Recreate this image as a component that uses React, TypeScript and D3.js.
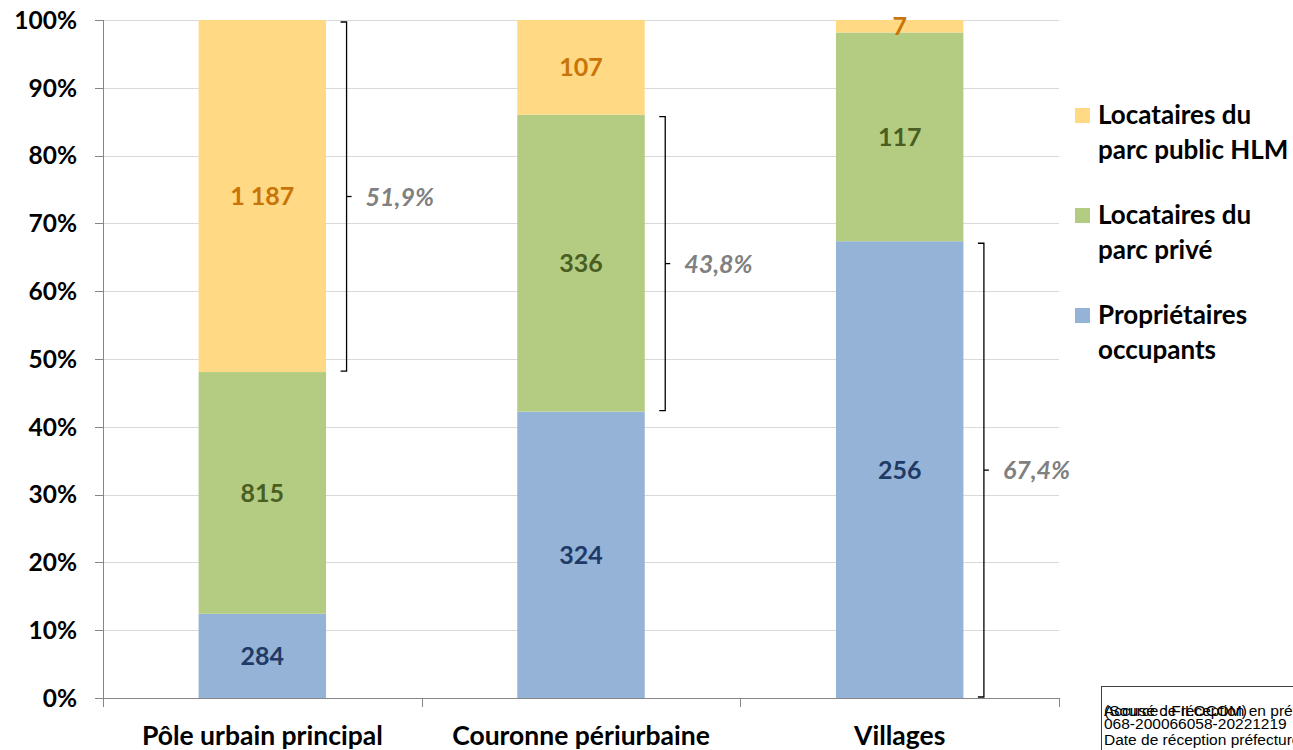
import React from "react";
import * as d3 from "d3";

const categories = ["Pôle urbain principal", "Couronne périurbaine", "Villages"];
const seriesNames = ["Propriétaires occupants", "Locataires du parc privé", "Locataires du parc public HLM"];
const proprietaires = [284, 324, 256];
const locatairesPrive = [815, 336, 117];
const locatairesHLM = [1187, 107, 7];
const yTicks = [0, 0.1, 0.2, 0.3, 0.4, 0.5, 0.6, 0.7, 0.8, 0.9, 1];
// bracket: which series index (0 = bottom) is highlighted per category, and its label
const bracketSeries = [2, 1, 0];
const bracketLabels = ["51,9%", "43,8%", "67,4%"];

const fills = ["#95B3D7", "#B3CC82", "#FFD983"];
const labelColors = ["#1F3A66", "#4A5E22", "#C87408"];
const legendLines = [
  ["Locataires du", "parc public HLM"],
  ["Locataires du", "parc privé"],
  ["Propriétaires", "occupants"],
];
const legendColors = [fills[2], fills[1], fills[0]];

const FONT = "Lato, 'Open Sans', sans-serif";

export default function App() {
  const W = 1293, H = 750;
  const left = 103, right = 1059, top = 20, bottom = 698;
  const x = d3.scaleBand<string>().domain(categories).range([left, right]).paddingInner(0.6).paddingOuter(0.3);
  const xOuter = d3.scaleBand<string>().domain(categories).range([left, right]);
  const y = d3.scaleLinear().domain([0, 1]).range([bottom, top]);

  const rows = categories.map((c, i) => ({ cat: c, vals: [proprietaires[i], locatairesPrive[i], locatairesHLM[i]] }));
  const stacked = rows.map((r) => {
    const total = d3.sum(r.vals);
    let acc = 0;
    return r.vals.map((v, k) => {
      const y0 = acc / total;
      acc += v;
      return { k, v, y0, y1: acc / total };
    });
  });

  return (
    <svg width={W} height={H} style={{ display: "block", position: "absolute", left: 0, top: 0 }}>
      <rect x={0} y={0} width={W} height={H} fill="#fff" />
      {/* gridlines */}
      {yTicks.map((t) => (
        <line key={"g" + t} x1={left} x2={right} y1={Math.round(y(t)) + 0.5} y2={Math.round(y(t)) + 0.5} stroke="#D9D9D9" strokeWidth={1} />
      ))}
      {/* y axis */}
      <line x1={left + 0.5} x2={left + 0.5} y1={top} y2={bottom} stroke="#868686" />
      {yTicks.map((t) => (
        <g key={"t" + t}>
          <line x1={left - 8} x2={left} y1={Math.round(y(t)) + 0.5} y2={Math.round(y(t)) + 0.5} stroke="#868686" />
          <text x={77} y={y(t)} dy="0.36em" textAnchor="end" fontFamily={FONT} fontWeight={700} fontSize={24.5} fill="#000">
            {d3.format(".0%")(t)}
          </text>
        </g>
      ))}
      {/* x axis */}
      <line x1={left} x2={right} y1={bottom + 0.5} y2={bottom + 0.5} stroke="#868686" />
      {[...categories.map((c) => xOuter(c)!), right].map((px, i) => (
        <line key={"xt" + i} x1={Math.round(px) + 0.5} x2={Math.round(px) + 0.5} y1={bottom} y2={bottom + 9} stroke="#868686" />
      ))}
      {categories.map((c) => (
        <text key={"xl" + c} x={xOuter(c)! + xOuter.bandwidth() / 2} y={735} dy="0.36em" textAnchor="middle" fontFamily={FONT} fontWeight={700} fontSize={26.5} fill="#000">
          {c}
        </text>
      ))}
      {/* bars */}
      {stacked.map((segs, i) =>
        segs.map((s) => (
          <g key={"b" + i + "-" + s.k}>
            <rect x={x(categories[i])!} width={x.bandwidth()} y={y(s.y1)} height={y(s.y0) - y(s.y1)} fill={fills[s.k]} />
            <text x={x(categories[i])! + x.bandwidth() / 2} y={(y(s.y0) + y(s.y1)) / 2} dy="0.36em" textAnchor="middle" fontFamily={FONT} fontWeight={700} fontSize={25} fill={labelColors[s.k]}>
              {d3.format(",")(s.v).replace(/,/g, " ")}
            </text>
          </g>
        ))
      )}
      {/* brackets */}
      {stacked.map((segs, i) => {
        const s = segs[bracketSeries[i]];
        const bx = x(categories[i])! + x.bandwidth() + 20.5;
        const yt = y(s.y1) + 2;
        const yb = y(s.y0) - 1;
        const ym = (yt + yb) / 2;
        return (
          <g key={"br" + i}>
            <path d={`M${bx - 6},${yt} H${bx} V${yb} H${bx - 6}`} fill="none" stroke="#000" strokeWidth={1.3} />
            <line x1={bx} x2={bx + 5} y1={ym} y2={ym} stroke="#000" strokeWidth={1.3} />
            <text x={bx + 19} y={ym} dy="0.36em" fontFamily={FONT} fontWeight={700} fontStyle="italic" fontSize={25} fill="#808080">
              {bracketLabels[i]}
            </text>
          </g>
        );
      })}
      {/* legend */}
      {legendLines.map((lines, i) => (
        <g key={"lg" + i}>
          <rect x={1075} y={108 + i * 100} width={15} height={15} fill={legendColors[i]} />
          {lines.map((ln, j) => (
            <text key={j} x={1098} y={115 + i * 100 + j * 35} dy="0.36em" fontFamily={FONT} fontWeight={700} fontSize={26} fill="#000">
              {ln}
            </text>
          ))}
        </g>
      ))}
      {/* source box */}
      <rect x={1101.5} y={686.5} width={220} height={80} fill="#fff" stroke="#404040" strokeWidth={1} />
      <g fontFamily="'Liberation Sans', Arial, sans-serif" fontSize={15.5} fill="#000">
        <text x={1104} y={716}>(Source : FILOCOM)</text>
        <text x={1104} y={716}>Accusé de réception en préfecture</text>
        <text x={1104} y={729}>068-200066058-20221219</text>
        <text x={1104} y={745}>Date de réception préfecture</text>
      </g>
    </svg>
  );
}
